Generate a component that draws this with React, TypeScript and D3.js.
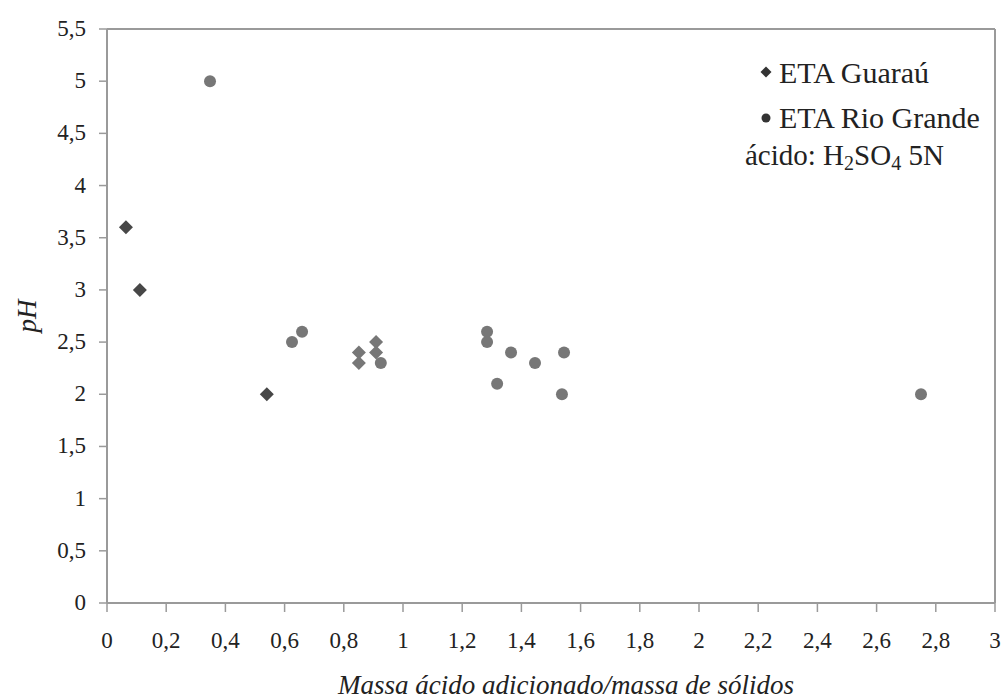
import React from "react";
import * as d3 from "d3";

// ETA Guaraú samples (darker diamonds)
const guarauX = [0.064, 0.111, 0.54];
const guarauY = [3.6, 3.0, 2.0];
// Additional Guaraú samples (lighter diamonds)
const guarauLightX = [0.851, 0.851, 0.909, 0.909];
const guarauLightY = [2.4, 2.3, 2.5, 2.4];
// ETA Rio Grande samples
const rioX = [0.348, 0.625, 0.659, 0.925, 1.284, 1.284, 1.365, 1.446, 1.544, 1.318, 1.537, 2.75];
const rioY = [5.0, 2.5, 2.6, 2.3, 2.6, 2.5, 2.4, 2.3, 2.4, 2.1, 2.0, 2.0];

const xTicks = [0, 0.2, 0.4, 0.6, 0.8, 1, 1.2, 1.4, 1.6, 1.8, 2, 2.2, 2.4, 2.6, 2.8, 3];
const yTicks = [0, 0.5, 1, 1.5, 2, 2.5, 3, 3.5, 4, 4.5, 5, 5.5];

const W = 1002;
const H = 699;
const left = 107;
const right = 995;
const top = 29;
const bottom = 603;

const fmt = (v: number) => String(v).replace(".", ",");

export default function App() {
  const x = d3.scaleLinear().domain([0, 3]).range([left, right]);
  const y = d3.scaleLinear().domain([0, 5.5]).range([bottom, top]);
  const font = "'Liberation Serif', 'Times New Roman', serif";
  const axisColor = "#9a9a9a";
  const dark = "#474747";
  const gray = "#777777";
  const diamond = (cx: number, cy: number, r: number) =>
    `M${cx},${cy - r}L${cx + r},${cy}L${cx},${cy + r}L${cx - r},${cy}Z`;

  return (
    <svg
      width={W}
      height={H}
      style={{ position: "absolute", left: 0, top: 0, background: "#fff" }}
    >
      {/* frame */}
      <line x1={left} y1={top} x2={right} y2={top} stroke={axisColor} strokeWidth={2} />
      <line x1={right} y1={top} x2={right} y2={bottom} stroke={axisColor} strokeWidth={2} />
      <line x1={left} y1={top} x2={left} y2={bottom} stroke={axisColor} strokeWidth={2} />
      <line x1={left} y1={bottom} x2={right} y2={bottom} stroke={axisColor} strokeWidth={2} />

      {/* y axis ticks */}
      {yTicks.map((t) => (
        <g key={"y" + t}>
          <line x1={left - 8} x2={left} y1={y(t)} y2={y(t)} stroke={axisColor} strokeWidth={1.5} />
          <text
            x={86}
            y={y(t) + 7}
            textAnchor="end"
            fontFamily={font}
            fontSize={23}
            fill="#222"
          >
            {fmt(t)}
          </text>
        </g>
      ))}

      {/* x axis ticks */}
      {xTicks.map((t) => (
        <g key={"x" + t}>
          <line x1={x(t)} x2={x(t)} y1={bottom} y2={bottom + 9} stroke={axisColor} strokeWidth={1.5} />
          <text
            x={x(t)}
            y={648}
            textAnchor="middle"
            fontFamily={font}
            fontSize={23}
            fill="#222"
          >
            {fmt(t)}
          </text>
        </g>
      ))}

      {/* axis titles */}
      <text
        x={566}
        y={694}
        textAnchor="middle"
        fontFamily={font}
        fontStyle="italic"
        fontSize={27}
        fill="#222"
      >
        Massa ácido adicionado/massa de sólidos
      </text>
      <text
        transform={`translate(36,${(top + bottom) / 2}) rotate(-90)`}
        textAnchor="middle"
        fontFamily={font}
        fontStyle="italic"
        fontSize={27}
        fill="#222"
      >
        pH
      </text>

      {/* data */}
      {rioX.map((v, i) => (
        <circle key={"r" + i} cx={x(v)} cy={y(rioY[i])} r={6} fill={gray} />
      ))}
      {guarauLightX.map((v, i) => (
        <path key={"gl" + i} d={diamond(x(v), y(guarauLightY[i]), 7)} fill={gray} />
      ))}
      {guarauX.map((v, i) => (
        <path key={"g" + i} d={diamond(x(v), y(guarauY[i]), 7)} fill={dark} />
      ))}

      {/* legend */}
      <path d={diamond(766, 72, 5.5)} fill="#333" />
      <text x={779} y={83} fontFamily={font} fontSize={30} fill="#222">
        ETA Guaraú
      </text>
      <circle cx={766} cy={118} r={4.5} fill="#333" />
      <text x={779} y={128} fontFamily={font} fontSize={30} fill="#222">
        ETA Rio Grande
      </text>
      <text x={745} y={165} fontFamily={font} fontSize={29} fill="#222">
        ácido: H
        <tspan fontSize={20} dy={5}>2</tspan>
        <tspan dy={-5}>SO</tspan>
        <tspan fontSize={20} dy={5}>4</tspan>
        <tspan dy={-5}> 5N</tspan>
      </text>
    </svg>
  );
}
